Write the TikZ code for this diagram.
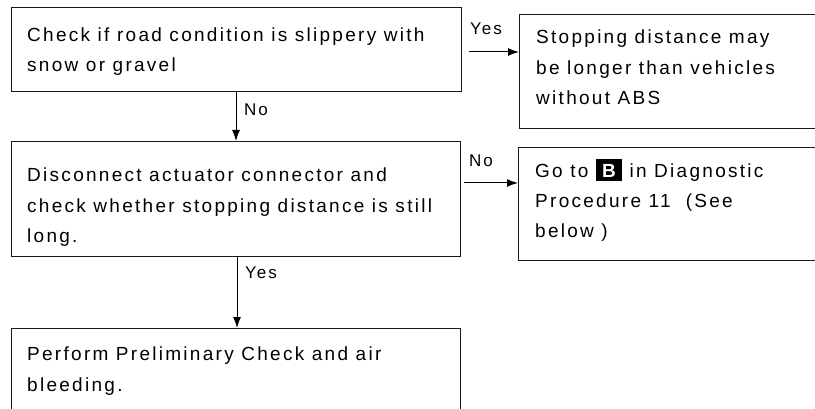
\documentclass[tikz,border=0pt]{standalone}
\usepackage{fontspec}
\setmainfont{Liberation Sans}[LetterSpace=12]
\usetikzlibrary{arrows.meta}
\begin{document}
\begin{tikzpicture}[x=1pt,y=-1pt,
  box/.style={draw=black!90, line width=1pt, anchor=north west, inner sep=0pt},
  txt/.style={anchor=base west, inner sep=0pt, align=left,
              font=\fontsize{19}{30.5}\selectfont},
  lbl/.style={inner sep=0pt, font=\fontsize{17}{20}\selectfont},
  flow/.style={line width=1pt, -{Latex[length=11pt,width=8pt]}}]
\useasboundingbox (0,0) rectangle (815,409);
\clip (0,0) rectangle (815,409);
\fill[white] (0,0) rectangle (815,409);

% boxes (the right-hand ones and the last one run past the page edge)
\node[box, minimum width=450pt, minimum height=84pt]  (b1) at (11,7)    {};
\node[box, minimum width=330pt, minimum height=114pt] (b2) at (519,14)  {};
\node[box, minimum width=449pt, minimum height=115pt] (b3) at (11,141)  {};
\node[box, minimum width=330pt, minimum height=113pt] (b4) at (518,147) {};
\node[box, minimum width=449pt, minimum height=110pt] (b5) at (11,328)  {};

% texts, placed by the baseline of their last line
\node[txt] (t1) at (27,72)  {Check if road condition is slippery with\\snow or gravel};
\node[txt] (t2) at (536,105) {Stopping distance may\\be longer than vehicles\\without ABS};
\node[txt] (t3) at (27,243) {Disconnect actuator connector and\\check whether stopping distance is still\\long.};
\node[txt] (t4) at (535,238) {Go to {\setlength\fboxsep{0pt}\colorbox{black}{\makebox[26pt]{\rule[-4pt]{0pt}{22pt}\textcolor{white}{\bfseries B}}}} in Diagnostic\\Procedure 11 \ (See\\below )};
\node[txt] (t5) at (27,391) {Perform Preliminary Check and air\\bleeding.};

% connectors
\coordinate (n1) at ([xshift=225pt]b1.south west);
\coordinate (n3) at ([xshift=225pt]b3.north west);
\draw[flow] (n1) -- (n3);
\coordinate (y3) at ([xshift=226pt]b3.south west);
\coordinate (y5) at ([xshift=226pt]b5.north west);
\draw[flow] (y3) -- (y5);
\coordinate (r1) at ([xshift=7pt,yshift=-45pt]b1.north east);
\draw[flow] (r1) -- (r1 -| b2.west);
\coordinate (r3) at ([xshift=3pt,yshift=-42pt]b3.north east);
\draw[flow] (r3) -- (r3 -| b4.west);

% branch labels
\node[lbl] (l1) at (486,29)  {Yes};
\node[lbl] (l2) at (256,110) {No};
\node[lbl] (l3) at (481,161) {No};
\node[lbl] (l4) at (261,273) {Yes};
\end{tikzpicture}
\end{document}
